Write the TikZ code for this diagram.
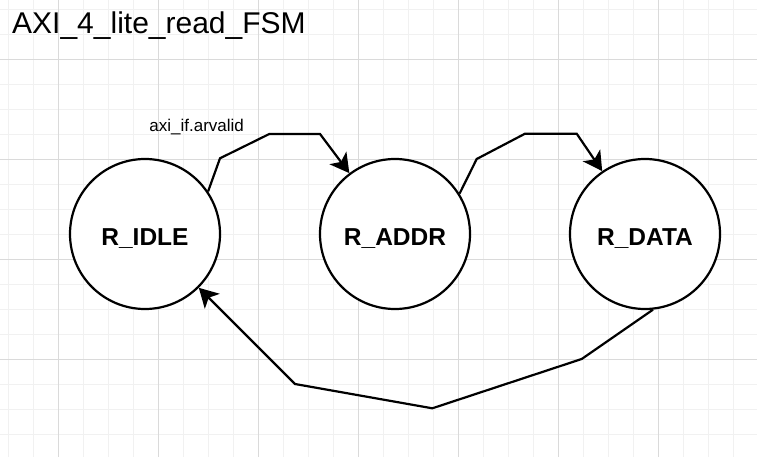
\documentclass[tikz,border=0pt]{standalone}
\usepackage{fontspec}
\setmainfont{Liberation Sans}
\usetikzlibrary{arrows.meta}
\definecolor{gridmajor}{HTML}{DADADA}
\definecolor{gridminor}{HTML}{F1F1F1}
\tikzset{
  state/.style={circle, draw=black, line width=2.2pt, fill=white, minimum size=150pt, inner sep=0pt,
    font=\fontsize{24.5}{28}\selectfont\bfseries, text height=22pt, text depth=0pt},
  trans/.style={draw=black, line width=2.2pt, line join=miter,
    -{Stealth[length=19pt, width=21pt, inset=5pt]}},
  lbl/.style={font=\fontsize{17}{20}\selectfont, inner sep=0pt},
  ttl/.style={font=\fontsize{30}{34}\selectfont, inner sep=0pt, anchor=base west}
}
\begin{document}
\begin{tikzpicture}[x=1pt,y=-1pt]
\useasboundingbox (0,0) rectangle (757,457);
\fill[white] (0,0) rectangle (757,457);
% minor grid
\foreach \gx in {8.7,33.7,...,757} {\draw[gridminor, line width=0.8pt] (\gx,0) -- (\gx,457);}
\foreach \gy in {9.3,34.3,...,457} {\draw[gridminor, line width=0.8pt] (0,\gy) -- (757,\gy);}
% major grid
\foreach \gx in {58.7,158.7,...,757} {\draw[gridmajor, line width=0.8pt] (\gx,0) -- (\gx,457);}
\foreach \gy in {59.3,159.3,...,457} {\draw[gridmajor, line width=0.8pt] (0,\gy) -- (757,\gy);}

\node[ttl] (title) at (12,33.3) {AXI\_4\_lite\_read\_FSM};

\node[state] (idle) at (145,234) {R\_IDLE};
\node[state] (addr) at (395,234) {R\_ADDR};
\node[state] (data) at (645,234) {R\_DATA};

\coordinate (a1) at (220,158.3);
\coordinate (a2) at (269.3,134);
\coordinate (a3) at (320,134);
\coordinate (b1) at (476.7,159);
\coordinate (b2) at (525,133.7);
\coordinate (b3) at (576.7,133.7);
\coordinate (c1) at (581.7,359);
\coordinate (c2) at (432.3,408.3);
\coordinate (c3) at (295,384);

\draw[trans] (idle.34) -- (a1) -- (a2) -- (a3) -- (addr);
\draw[trans] (addr.32) -- (b1) -- (b2) -- (b3) -- (data);
\draw[trans] (data.276) -- (c1) -- (c2) -- (c3) -- (idle);

\node[lbl] (cond) at (196.7,126.7) {axi\_if.arvalid};
\end{tikzpicture}
\end{document}
